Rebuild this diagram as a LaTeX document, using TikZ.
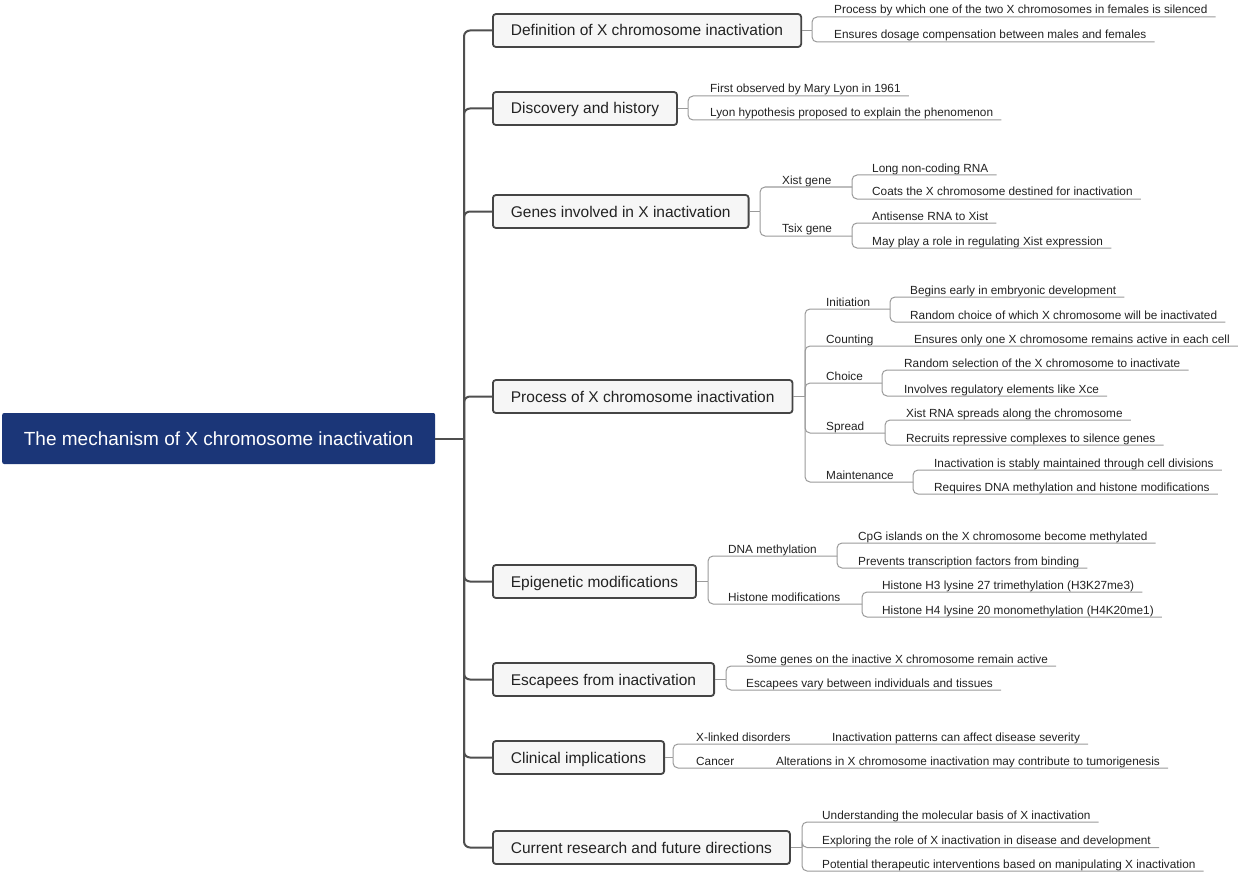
\documentclass[tikz,border=0pt]{standalone}
\usepackage{fontspec}
\setmainfont{Liberation Sans}
\usetikzlibrary{calc}
\definecolor{rootblue}{HTML}{1B3678}
\definecolor{boxfill}{HTML}{F6F6F6}
\definecolor{boxdraw}{HTML}{454545}
\definecolor{trunkgray}{HTML}{4F4F4F}
\definecolor{twiggray}{HTML}{9A9A9A}
\definecolor{textdark}{HTML}{222222}
\begin{document}
\begin{tikzpicture}[x=1pt,y=-1pt,
 rootbox/.style={fill=rootblue, rounded corners=2pt, text=white, font=\fontsize{19}{22}\selectfont, minimum width=433pt, minimum height=51pt, anchor=west, inner sep=0pt, text height=13.5pt, text depth=0pt},
 branch/.style={draw=boxdraw, line width=1.8pt, fill=boxfill, rounded corners=3pt, font=\fontsize{15.5}{18}\selectfont, text=textdark, minimum height=33pt, inner xsep=18pt, inner ysep=0pt, anchor=west, text height=11pt, text depth=0pt},
 leaf/.style={font=\fontsize{11.8}{14}\selectfont, text=textdark, inner sep=0pt, anchor=base west, yshift=-1pt},
 trunk/.style={draw=trunkgray, line width=2pt, rounded corners=6pt},
 twig/.style={draw=twiggray, line width=1pt, rounded corners=5pt},
]
\useasboundingbox (0,0) rectangle (1240,872);

% root and branches
\node[rootbox] (root) at (2,438.5) {The mechanism of X chromosome inactivation};
\node[branch] (b1) at (492,30.5) {Definition of X chromosome inactivation};
\node[branch] (b2) at (492,108.5) {Discovery and history};
\node[branch] (b3) at (492,211.5) {Genes involved in X inactivation};
\node[branch] (b4) at (492,396.5) {Process of X chromosome inactivation};
\node[branch] (b5) at (492,581.5) {Epigenetic modifications};
\node[branch] (b6) at (492,679.5) {Escapees from inactivation};
\node[branch] (b7) at (492,757.5) {Clinical implications};
\node[branch] (b8) at (492,847.5) {Current research and future directions};

\coordinate (f0) at (464,438.5);
\draw[trunk] (root.east) -- (f0);
\foreach \b in {b1,b2,b3,b4,b5,b6,b7,b8} \draw[trunk] (f0) |- (\b.west);

% forks
\coordinate (f1) at (812,30.5);
\coordinate (f2) at (688,108.5);
\coordinate (f3) at (760,211.5);
\coordinate (f31) at (852,187);
\coordinate (f32) at (852,236);
\coordinate (f4) at (805,396.5);
\coordinate (f41) at (890,309);
\coordinate (f43) at (882,383);
\coordinate (f44) at (885,433);
\coordinate (f45) at (913,482);
\coordinate (f5) at (708,581.5);
\coordinate (f51) at (837,556);
\coordinate (f52) at (862,604);
\coordinate (f6) at (726,679.5);
\coordinate (f7) at (673,757.5);
\coordinate (f8) at (802,847.5);

% leaves and labels
\node[leaf] (L11) at (834,13) {Process by which one of the two X chromosomes in females is silenced};
\node[leaf] (L12) at (834,38) {Ensures dosage compensation between males and females};
\node[leaf] (L21) at (710,92) {First observed by Mary Lyon in 1961};
\node[leaf] (L22) at (710,116) {Lyon hypothesis proposed to explain the phenomenon};
\node[leaf] (S31) at (782,183) {Xist gene};
\node[leaf] (L311) at (872,171) {Long non-coding RNA};
\node[leaf] (L312) at (872,195) {Coats the X chromosome destined for inactivation};
\node[leaf] (S32) at (782,232) {Tsix gene};
\node[leaf] (L321) at (872,219) {Antisense RNA to Xist};
\node[leaf] (L322) at (872,244) {May play a role in regulating Xist expression};
\node[leaf] (S41) at (826,305) {Initiation};
\node[leaf] (L411) at (910,293) {Begins early in embryonic development};
\node[leaf] (L412) at (910,318) {Random choice of which X chromosome will be inactivated};
\node[leaf] (S42) at (826,342) {Counting};
\node[leaf] (L42) at (914,342) {Ensures only one X chromosome remains active in each cell};
\node[leaf] (S43) at (826,379) {Choice};
\node[leaf] (L431) at (904,366) {Random selection of the X chromosome to inactivate};
\node[leaf] (L432) at (904,392) {Involves regulatory elements like Xce};
\node[leaf] (S44) at (826,429) {Spread};
\node[leaf] (L441) at (906,416) {Xist RNA spreads along the chromosome};
\node[leaf] (L442) at (906,441) {Recruits repressive complexes to silence genes};
\node[leaf] (S45) at (826,478) {Maintenance};
\node[leaf] (L451) at (934,466) {Inactivation is stably maintained through cell divisions};
\node[leaf] (L452) at (934,490) {Requires DNA methylation and histone modifications};
\node[leaf] (S51) at (728,552) {DNA methylation};
\node[leaf] (L511) at (858,539) {CpG islands on the X chromosome become methylated};
\node[leaf] (L512) at (858,564) {Prevents transcription factors from binding};
\node[leaf] (S52) at (728,600) {Histone modifications};
\node[leaf] (L521) at (882,588) {Histone H3 lysine 27 trimethylation (H3K27me3)};
\node[leaf] (L522) at (882,613) {Histone H4 lysine 20 monomethylation (H4K20me1)};
\node[leaf] (L61) at (746,662) {Some genes on the inactive X chromosome remain active};
\node[leaf] (L62) at (746,686) {Escapees vary between individuals and tissues};
\node[leaf] (S71) at (696,740) {X-linked disorders};
\node[leaf] (L71) at (832,740) {Inactivation patterns can affect disease severity};
\node[leaf] (S72) at (696,764) {Cancer};
\node[leaf] (L72) at (776,764) {Alterations in X chromosome inactivation may contribute to tumorigenesis};
\node[leaf] (L81) at (822,818) {Understanding the molecular basis of X inactivation};
\node[leaf] (L82) at (822,843.5) {Exploring the role of X inactivation in disease and development};
\node[leaf] (L83) at (822,867) {Potential therapeutic interventions based on manipulating X inactivation};

% stems from boxes
\draw[twig] (b1.east) -- (f1);
\draw[twig] (b2.east) -- (f2);
\draw[twig] (b3.east) -- (f3);
\draw[twig] (b4.east) -- (f4);
\draw[twig] (b5.east) -- (f5);
\draw[twig] (b6.east) -- (f6);
\draw[twig] (b7.east) -- (f7);
\draw[twig] (b8.east) -- (f8);

% underlines
\foreach \f/\l in {f1/L11,f1/L12,f2/L21,f2/L22,f31/L311,f31/L312,f32/L321,f32/L322,
  f41/L411,f41/L412,f4/L42,f43/L431,f43/L432,f44/L441,f44/L442,f45/L451,f45/L452,
  f51/L511,f51/L512,f52/L521,f52/L522,f6/L61,f6/L62,f7/L71,f7/L72,f8/L81,f8/L82,f8/L83}
  \draw[twig] (\f) |- ($(\l.base east)+(8,3)$);
\foreach \f/\g in {f3/f31,f3/f32,f4/f41,f4/f43,f4/f44,f4/f45,f5/f51,f5/f52}
  \draw[twig] (\f) |- (\g);
\end{tikzpicture}
\end{document}
